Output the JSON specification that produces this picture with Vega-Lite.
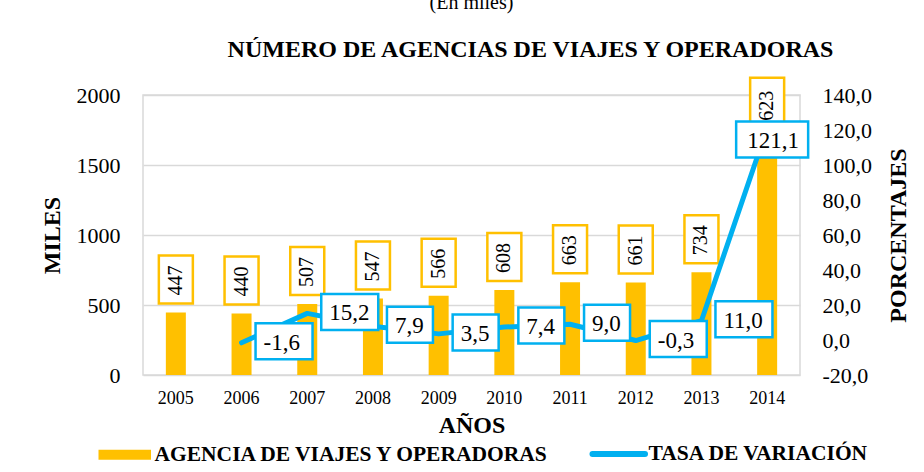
{
  "$schema": "https://vega.github.io/schema/vega-lite/v6.json",
  "width": 657,
  "height": 280,
  "autosize": {"type": "none"},
  "padding": {"left": 143, "top": 95, "right": 124, "bottom": 97},
  "background": "white",
  "config": {
    "locale": {"number": {"decimal": ",", "thousands": ".", "grouping": [3], "currency": ["", ""], "minus": "-"}},
    "view": {"stroke": "#d9d9d9", "strokeWidth": 1.5},
    "font": "Liberation Serif"
  },
  "title": {
    "text": "(En miles)",
    "anchor": "middle",
    "frame": "group",
    "font": "Liberation Serif",
    "fontSize": 20,
    "fontWeight": "normal",
    "color": "#000000",
    "baseline": "alphabetic",
    "offset": 8
  },
  "data": {
    "values": [
      {"anio": "2005", "agencias": 447, "tasa": null},
      {"anio": "2006", "agencias": 440, "tasa": -1.6},
      {"anio": "2007", "agencias": 507, "tasa": 15.2},
      {"anio": "2008", "agencias": 547, "tasa": 7.9},
      {"anio": "2009", "agencias": 566, "tasa": 3.5},
      {"anio": "2010", "agencias": 608, "tasa": 7.4},
      {"anio": "2011", "agencias": 663, "tasa": 9.0},
      {"anio": "2012", "agencias": 661, "tasa": -0.3},
      {"anio": "2013", "agencias": 734, "tasa": 11.0},
      {"anio": "2014", "agencias": 1623, "tasa": 121.1}
    ]
  },
  "resolve": {"scale": {"y": "independent"}, "axis": {"x": "independent", "y": "independent"}},
  "layer": [
    {
      "encoding": {
        "x": {
          "field": "anio", "type": "ordinal",
          "scale": {"paddingInner": 0, "paddingOuter": 0},
          "axis": {
            "orient": "bottom", "title": "AÑOS", "labelAngle": 0,
            "labelFont": "Liberation Serif", "labelFontSize": 18, "labelColor": "#000000", "labelPadding": 14,
            "ticks": false, "domain": false, "grid": false,
            "titleFont": "Liberation Serif", "titleFontSize": 24, "titleFontWeight": "bold", "titleColor": "#000000",
            "titleY": 57, "titleBaseline": "alphabetic"
          }
        },
        "y": {
          "field": "agencias", "type": "quantitative",
          "scale": {"domain": [0, 2000], "nice": false},
          "axis": {
            "orient": "left", "title": "MILES", "values": [0, 500, 1000, 1500, 2000], "format": "d",
            "labelFont": "Liberation Serif", "labelFontSize": 22, "labelColor": "#000000", "labelPadding": 23,
            "ticks": false, "domain": false, "grid": true, "gridColor": "#d9d9d9", "gridWidth": 1.5,
            "titleFont": "Liberation Serif", "titleFontSize": 24, "titleFontWeight": "bold", "titleColor": "#000000",
            "titleAngle": 270, "titleX": -91, "titleBaseline": "middle", "titleAlign": "center"
          }
        }
      },
      "layer": [
        {
          "mark": {"type": "bar", "size": 20},
          "encoding": {
            "color": {
              "datum": "AGENCIA DE VIAJES Y OPERADORAS", "type": "nominal",
              "scale": {"domain": ["AGENCIA DE VIAJES Y OPERADORAS", "TASA DE VARIACIÓN"], "range": ["#FFC000", "#00B0F0"]},
              "legend": {
                "orient": "none", "legendX": -29, "legendY": 348, "direction": "horizontal", "title": null,
                "labelFont": "Liberation Serif", "labelFontSize": 21.5, "labelFontWeight": "bold", "labelColor": "#000000",
                "labelLimit": 0, "symbolSize": 2500, "labelOffset": 19, "columnPadding": 30, "columns": 2,
                "symbolType": "M-1,-0.2H1V0.2H-1Z",
                "encode": {
                  "symbols": {
                    "update": {
                      "shape": {"signal": "datum.index === 1 ? 'M-1.05,0H1.05' : 'M-1.05,-0.2H1.05V0.2H-1.05Z'"},
                      "fill": {"signal": "datum.index === 1 ? 'transparent' : '#FFC000'"},
                      "stroke": {"signal": "datum.index === 1 ? '#00B0F0' : 'transparent'"},
                      "strokeWidth": {"signal": "datum.index === 1 ? 6 : 0"},
                      "strokeCap": {"value": "round"},
                      "opacity": {"value": 1}
                    }
                  }
                }
              }
            }
          }
        },
        {
          "mark": {"type": "point", "filled": true, "fill": "white", "stroke": "#FFC000", "strokeWidth": 2.5, "size": 1156, "opacity": 1},
          "encoding": {
            "shape": {
              "condition": {"test": "datum.agencias >= 1000", "value": "M-1,-4.118H1V-0.529H-1Z"},
              "value": "M-1,-3.353H1V-0.529H-1Z"
            }
          }
        },
        {
          "mark": {"type": "text", "angle": 270, "align": "left", "baseline": "middle", "dx": 17, "font": "Liberation Serif", "fontSize": 20, "color": "#000000"},
          "encoding": {"text": {"field": "agencias", "type": "quantitative", "format": "d"}}
        }
      ]
    },
    {
      "transform": [{"filter": "isValid(datum.tasa)"}],
      "encoding": {
        "x": {
          "field": "anio", "type": "ordinal",
          "scale": {"paddingInner": 0, "paddingOuter": 0},
          "axis": {
            "orient": "top", "labels": false, "ticks": false, "domain": false, "grid": false,
            "title": "NÚMERO DE AGENCIAS DE VIAJES  Y OPERADORAS",
            "titleFont": "Liberation Serif", "titleFontSize": 24, "titleFontWeight": "bold", "titleColor": "#000000",
            "titleX": 387, "titleY": -39, "titleBaseline": "alphabetic", "titleAlign": "center"
          }
        },
        "y": {
          "field": "tasa", "type": "quantitative",
          "scale": {"domain": [-20, 140], "nice": false},
          "axis": {
            "orient": "right", "title": "PORCENTAJES", "values": [-20, 0, 20, 40, 60, 80, 100, 120, 140], "format": ".1f",
            "labelFont": "Liberation Serif", "labelFontSize": 22, "labelColor": "#000000", "labelPadding": 22,
            "ticks": false, "domain": false, "grid": false,
            "titleFont": "Liberation Serif", "titleFontSize": 24, "titleFontWeight": "bold", "titleColor": "#000000",
            "titleAngle": 270, "titleX": 98, "titleBaseline": "middle", "titleAlign": "center"
          }
        }
      },
      "layer": [
        {
          "mark": {"type": "line", "strokeWidth": 5, "strokeCap": "round", "strokeJoin": "round"},
          "encoding": {"color": {"datum": "TASA DE VARIACIÓN", "type": "nominal"}}
        },
        {
          "mark": {"type": "point", "filled": true, "fill": "white", "stroke": "#00B0F0", "strokeWidth": 2.5, "size": 1296, "opacity": 1},
          "encoding": {
            "shape": {
              "condition": [
                {"test": "datum.tasa > 100", "value": "M-1.722,-0.361H2.278V1.639H-1.722Z"},
                {"test": "datum.tasa >= 0 && datum.tasa < 10", "value": "M0.778,-1.083H3.333V0.917H0.778Z"}
              ],
              "value": "M0.778,-1.083H3.944V0.917H0.778Z"
            }
          }
        },
        {
          "transform": [{"filter": "datum.anio != '2014'"}],
          "mark": {"type": "text", "align": "left", "baseline": "middle", "dx": 22, "font": "Liberation Serif", "fontSize": 23, "color": "#000000"},
          "encoding": {"text": {"field": "tasa", "type": "quantitative", "format": ".1f"}}
        },
        {
          "transform": [{"filter": "datum.anio == '2014'"}],
          "mark": {"type": "text", "align": "left", "baseline": "middle", "dx": -20, "dy": 13, "font": "Liberation Serif", "fontSize": 23, "color": "#000000"},
          "encoding": {"text": {"field": "tasa", "type": "quantitative", "format": ".1f"}}
        }
      ]
    }
  ]
}
